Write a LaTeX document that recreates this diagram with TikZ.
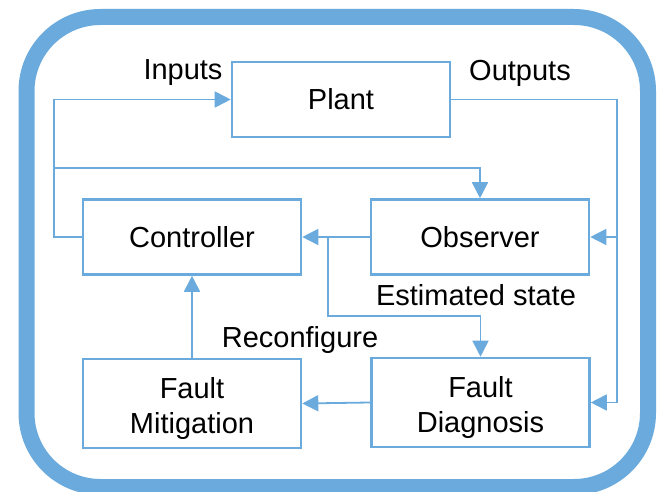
\documentclass[tikz,border=0pt]{standalone}
\usepackage{fontspec}
\setmainfont{Liberation Sans}
\usetikzlibrary{arrows.meta}
\definecolor{fblue}{RGB}{106,170,220}
\begin{document}
\begin{tikzpicture}[x=1pt,y=-1pt,
  blk/.style={draw=fblue,line width=2.6pt,rectangle,minimum width=218pt,align=center,
     font=\fontsize{29}{35}\selectfont,inner sep=0pt},
  lbl/.style={font=\fontsize{29}{35}\selectfont,inner sep=0pt,align=center},
  conn/.style={draw=fblue,line width=1.8pt},
  arr/.style={conn,-{Triangle[length=16pt,width=16pt]}}]
\useasboundingbox (0,0) rectangle (662,492);
\draw[fblue,line width=16pt,rounded corners=74pt] (26.5,17) rectangle (648,487);
\node[blk,minimum height=75pt] (plant) at (341,99.5) {Plant};
\node[blk,minimum height=75pt] (ctrl) at (192,237) {Controller};
\node[blk,minimum height=75pt] (obs) at (480,237) {Observer};
\node[blk,minimum height=89pt] (fm) at (192,403.5) {};
\node[blk,minimum height=89pt] (fd) at (480.5,402.5) {};
\node[lbl] (fmt) at ([yshift=-5pt]fm.center) {Fault\\Mitigation};
\node[lbl] (fdt) at ([yshift=-5pt]fd.center) {Fault\\Diagnosis};
\node[lbl] (in) at (183,73) {Inputs};
\node[lbl] (out) at (520,73) {Outputs};
\node[lbl] (est) at (476,295) {Estimated state};
\node[lbl] (rec) at (300,340) {Reconfigure};
\coordinate (lt) at (54,237);
\coordinate (lm) at (54,167.7);
\coordinate (rt) at (617,99.5);
\coordinate (rm) at (617,237);
\coordinate (rb) at (617,402.5);
\coordinate (br) at (328,237);
\coordinate (bd) at (328,316);
\draw[arr] (ctrl.west) -- (lt) -- (54,99.5) -- (plant.west);
\draw[arr] (lm) -- (480,167.7) -- (obs.north);
\draw[arr] (plant.east) -- (rt) -- (rm) -- (obs.east);
\draw[arr] (rm) -- (rb) -- (fd.east);
\draw[arr] (obs.west) -- (ctrl.east);
\draw[arr] (br) -- (bd) -- (480.5,316) -- (fd.north);
\draw[arr] (fd.west) -- (fm.east);
\draw[arr] (fm.north) -- (ctrl.south);
\end{tikzpicture}
\end{document}
